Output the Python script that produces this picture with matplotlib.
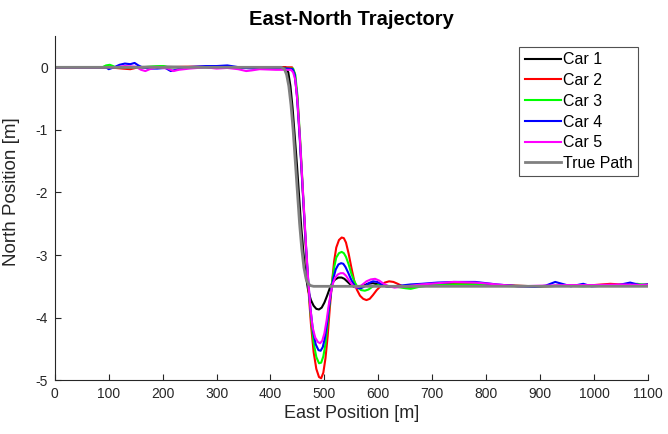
import matplotlib
matplotlib.use('Agg')
import matplotlib.pyplot as plt

# East-North trajectories
car1_x = [0, 100, 200, 300, 428, 433, 437, 441, 445, 449, 453, 457, 461, 465, 470, 475, 480, 485, 490,
          495, 500, 505, 510, 515, 520, 526, 532, 537, 542, 548, 555, 562, 570, 580, 590, 600, 615, 630,
          650, 680, 720, 760, 800, 850, 900, 950, 1000, 1050, 1100]
car1_y = [0, 0, 0.01, 0, 0, -0.08, -0.3, -0.65, -1.1, -1.55, -2.05, -2.55, -2.95, -3.3, -3.57, -3.72, -3.81, -3.86, -3.87,
          -3.84, -3.76, -3.65, -3.53, -3.44, -3.39, -3.36, -3.36, -3.38, -3.42, -3.47, -3.51, -3.52, -3.5, -3.46, -3.45, -3.47, -3.5, -3.51,
          -3.5, -3.48, -3.46, -3.47, -3.48, -3.49, -3.5, -3.49, -3.49, -3.48, -3.49]

car2_x = [0, 100, 125, 140, 155, 200, 250, 300, 350, 400, 440, 445, 450, 455, 460, 465, 470, 475, 480, 485, 490,
          494, 498, 502, 506, 510, 514, 518, 522, 527, 532, 536, 540, 545, 550, 555, 560, 566, 572, 578, 584,
          590, 597, 605, 612, 620, 628, 636, 645, 655, 665, 680, 720, 760, 800, 850, 900, 950, 1000, 1030, 1050, 1075, 1100]
car2_y = [0, 0, -0.02, -0.03, 0, 0, 0.01, 0.01, 0, 0, 0, -0.1, -0.5, -1.2, -2.0, -2.8, -3.5, -4.1, -4.55, -4.82, -4.95,
          -4.97, -4.88, -4.65, -4.3, -3.85, -3.45, -3.1, -2.88, -2.76, -2.72, -2.73, -2.8, -2.98, -3.2, -3.4, -3.55, -3.65, -3.7, -3.72, -3.7,
          -3.64, -3.56, -3.49, -3.44, -3.42, -3.43, -3.46, -3.5, -3.52, -3.51, -3.49, -3.47, -3.46, -3.48, -3.49, -3.5, -3.49, -3.48, -3.46, -3.47, -3.49, -3.47]

car3_x = [0, 88, 95, 102, 108, 113, 160, 195, 202, 210, 300, 400, 430, 442, 446, 450, 455, 460, 465, 470, 475, 480, 485, 490,
          494, 498, 502, 506, 510, 514, 518, 522, 527, 532, 536, 540, 545, 550, 556, 562, 568, 575, 582, 590,
          600, 610, 620, 635, 650, 660, 675, 700, 740, 780, 820, 860, 900, 940, 980, 1020, 1060, 1080, 1100]
car3_y = [0, 0, 0.03, 0.04, 0.02, 0, 0, 0.02, 0.02, 0, 0, -0.01, -0.02, -0.02, -0.12, -0.45, -1.15, -1.95, -2.75, -3.45, -4.0, -4.4, -4.63, -4.73,
          -4.72, -4.62, -4.42, -4.1, -3.75, -3.45, -3.2, -3.04, -2.97, -2.95, -2.97, -3.03, -3.15, -3.3, -3.43, -3.52, -3.56, -3.57, -3.55, -3.5,
          -3.48, -3.49, -3.5, -3.51, -3.53, -3.54, -3.51, -3.48, -3.47, -3.47, -3.49, -3.5, -3.5, -3.49, -3.5, -3.49, -3.47, -3.46, -3.48]

car4_x = [0, 95, 100, 110, 120, 130, 140, 148, 155, 162, 175, 190, 205, 215, 225, 240, 260, 280, 300, 320, 335, 350, 370, 400, 430,
          441, 445, 449, 454, 459, 464, 469, 474, 479, 484, 489, 493, 497, 501, 505, 509, 513, 517, 521, 526, 531, 535, 539, 544, 550,
          556, 562, 568, 575, 582, 590, 598, 606, 614, 625, 640, 660, 680, 710, 740, 780, 820, 860, 890, 910, 928, 945, 957, 980, 995,
          1020, 1045, 1067, 1085, 1100]
car4_y = [0, 0, -0.03, 0, 0.04, 0.06, 0.05, 0.07, 0.03, 0, -0.02, -0.02, -0.01, -0.06, -0.04, 0, 0.01, 0.02, 0.02, 0.03, 0.01, -0.01, -0.02, -0.02, -0.02,
          -0.03, -0.12, -0.45, -1.1, -1.85, -2.6, -3.3, -3.85, -4.22, -4.43, -4.52, -4.53, -4.47, -4.32, -4.08, -3.8, -3.55, -3.36, -3.23, -3.15, -3.13, -3.14, -3.19, -3.28, -3.4,
          -3.49, -3.53, -3.53, -3.5, -3.45, -3.42, -3.43, -3.47, -3.5, -3.5, -3.49, -3.47, -3.46, -3.44, -3.43, -3.43, -3.47, -3.5, -3.51, -3.49, -3.43, -3.47, -3.5, -3.46, -3.5,
          -3.49, -3.48, -3.44, -3.48, -3.47]

car5_x = [0, 110, 130, 150, 160, 168, 176, 190, 210, 220, 230, 250, 280, 300, 320, 340, 355, 365, 380, 410, 438,
          442, 446, 450, 454, 458, 462, 466, 470, 474, 478, 483, 488, 492, 496, 500, 504, 508, 512, 516, 520, 525, 530, 535, 540,
          546, 552, 558, 564, 571, 578, 586, 594, 602, 610, 620, 630, 650, 680, 710, 740, 780, 820, 860, 900, 950, 1000, 1050, 1100]
car5_y = [0, 0, 0.02, 0.01, -0.04, -0.06, -0.03, 0, -0.02, -0.06, -0.04, -0.02, 0, -0.02, -0.01, -0.03, -0.06, -0.05, -0.03, -0.04, -0.04,
          -0.08, -0.2, -0.55, -1.05, -1.65, -2.25, -2.85, -3.4, -3.85, -4.15, -4.32, -4.39, -4.41, -4.37, -4.25, -4.05, -3.8, -3.6, -3.45, -3.36, -3.31, -3.29, -3.29, -3.33,
          -3.41, -3.48, -3.52, -3.51, -3.47, -3.42, -3.39, -3.38, -3.41, -3.46, -3.5, -3.52, -3.5, -3.47, -3.45, -3.43, -3.44, -3.47, -3.5, -3.49, -3.48, -3.48, -3.47, -3.48]

true_x = [0, 420, 426, 430, 434, 438, 442, 446, 450, 454, 458, 462, 466, 470, 475, 480, 1100]
true_y = [0, 0, -0.03, -0.12, -0.3, -0.6, -1.0, -1.5, -2.0, -2.5, -2.9, -3.2, -3.38, -3.46, -3.49, -3.5, -3.5]

plt.rcParams['font.family'] = ['Liberation Sans', 'DejaVu Sans']
plt.rcParams['axes.unicode_minus'] = False
axcol = '#262626'

fig = plt.figure(figsize=(6.68, 4.34), dpi=100)
ax = fig.add_axes([0.082, 0.124, 0.888, 0.793])

ax.plot(car1_x, car1_y, color='k', lw=1.5, label='Car 1')
ax.plot(car2_x, car2_y, color=(1, 0, 0), lw=1.5, label='Car 2')
ax.plot(car3_x, car3_y, color=(0, 1, 0), lw=1.5, label='Car 3')
ax.plot(car4_x, car4_y, color=(0, 0, 1), lw=1.5, label='Car 4')
ax.plot(car5_x, car5_y, color=(1, 0, 1), lw=1.5, label='Car 5')
ax.plot(true_x, true_y, color=(0.5, 0.5, 0.5), lw=2, label='True Path')

ax.set_xlim(0, 1100)
ax.set_ylim(-5, 0.5)
ax.set_xticks(range(0, 1101, 100))
ax.set_yticks(range(-5, 1))
ax.spines['top'].set_visible(False)
ax.spines['right'].set_visible(False)
for s in ['left', 'bottom']:
    ax.spines[s].set_color(axcol)
    ax.spines[s].set_linewidth(0.8)
ax.tick_params(direction='in', length=4.5, labelsize=10, colors=axcol, labelcolor=axcol, pad=5)

ax.set_xlabel('East Position [m]', fontsize=13, color=axcol, labelpad=3)
ax.set_ylabel('North Position [m]', fontsize=13.5, color=axcol, labelpad=4)
ax.yaxis.set_label_coords(-0.058, 0.547)
ax.set_title('East-North Trajectory', fontsize=14.5, fontweight='bold', pad=8)

leg = ax.legend(loc='upper right', fontsize=11.5, frameon=True, fancybox=False, edgecolor=axcol,
                handlelength=2.3, handletextpad=0.1, borderpad=0.33, labelspacing=0.36,
                borderaxespad=0, bbox_to_anchor=(0.983, 0.968))
leg.get_frame().set_linewidth(0.8)

fig.savefig('out.png', dpi=100)
